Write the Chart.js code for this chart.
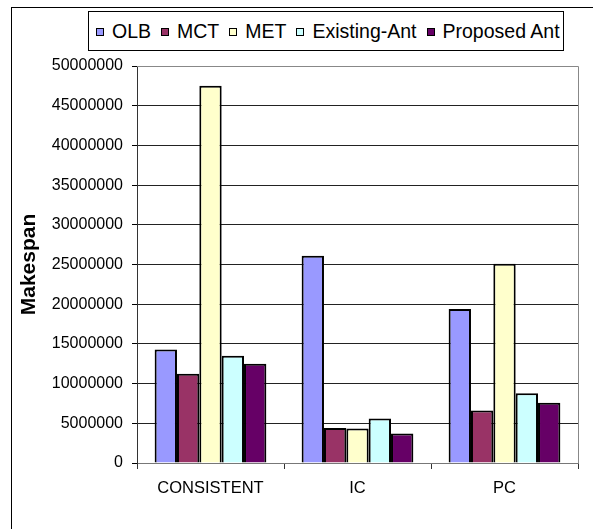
<!DOCTYPE html>
<html>
<head>
<meta charset="utf-8">
<title>Makespan</title>
<script src="https://cdn.jsdelivr.net/npm/chart.js@4.4.1/dist/chart.umd.min.js"></script>
<style>
    html, body { margin: 0; padding: 0; background: #fff; }
    #wrap   { position: relative; width: 593px; height: 529px; overflow: hidden; }
    #frame  { position: absolute; left: 11px; top: 7px; right: -2px; bottom: -2px;
              border-left: 1px solid #000; border-top: 1px solid #000; }
    #grafica { position: absolute; left: 0; top: 0; }
    #leyenda {
        position: absolute; left: 88px; top: 11px; width: 467px; height: 38px;
        border: 1px solid #000; background: #fff;
        display: flex; align-items: center; padding-left: 7px; box-sizing: content-box;
        font-family: 'Liberation Sans', Arial, sans-serif; font-size: 19.5px; color: #000;
        white-space: nowrap;
    }
    #leyenda .item { display: flex; align-items: center; margin-right: 10px; }
    #leyenda .caja { width: 6px; height: 6px; border: 1px solid #000; margin-right: 8px; margin-top: 2px; }
</style>
</head>
<body>
<div id="wrap">
    <div id="frame"></div>
    <canvas id="grafica" width="593" height="529"></canvas>
    <div id="leyenda"></div>
</div>
<script>
const categorias   = ['CONSISTENT', 'IC', 'PC'];
const olb          = [14300000, 26100000, 19400000];
const mct          = [11250000,  4400000,  6600000];
const met          = [47500000,  4350000, 25100000];
const existingAnt  = [13500000,  5600000,  8800000];
const proposedAnt  = [12500000,  3700000,  7600000];
const yTicks       = [0, 5000000, 10000000, 15000000, 20000000, 25000000,
                      30000000, 35000000, 40000000, 45000000, 50000000];

const fuente = "'Liberation Sans', Arial, sans-serif";

const series = [
    { label: 'OLB',          data: olb,         color: '#9999FF' },
    { label: 'MCT',          data: mct,         color: '#993366' },
    { label: 'MET',          data: met,         color: '#FFFFCC' },
    { label: 'Existing-Ant', data: existingAnt, color: '#CCFFFF' },
    { label: 'Proposed Ant', data: proposedAnt, color: '#660066' },
];

// borde gris del area de trazado (derecha y arriba)
const bordeArea = {
    id: 'bordeArea',
    afterDraw(chart) {
        const { ctx, chartArea: a } = chart;
        ctx.save();
        ctx.strokeStyle = '#888';
        ctx.lineWidth = 1;
        ctx.beginPath();
        ctx.moveTo(a.left, a.top + 0.5);
        ctx.lineTo(a.right + 0.5, a.top + 0.5);
        ctx.lineTo(a.right + 0.5, a.bottom);
        ctx.stroke();
        ctx.restore();
    }
};

const chart = new Chart(document.getElementById('grafica'), {
    type: 'bar',
    data: {
        labels: categorias,
        datasets: series.map(s => ({
            label: s.label,
            data: s.data,
            backgroundColor: s.color,
            borderColor: '#000',
            borderWidth: 2,
            categoryPercentage: 0.76,
            barPercentage: 1.0,
        }))
    },
    options: {
        responsive: false,
        animation: false,
        layout: { padding: { left: 5, top: 66, right: 15, bottom: 30 } },
        plugins: {
            legend: { display: false },
            tooltip: { enabled: false }
        },
        scales: {
            x: {
                afterFit: s => { s.height = 36; },
                grid: { offset: true, drawOnChartArea: false, tickLength: 6, color: '#333' },
                border: { color: '#777', width: 1 },
                ticks: { color: '#000', padding: 10, font: { family: fuente, size: 16.5 } }
            },
            y: {
                min: 0,
                max: 50000000,
                afterFit: s => { s.width = 132; },
                afterBuildTicks: s => { s.ticks = yTicks.map(v => ({ value: v })); },
                grid: { color: '#222', tickColor: '#000', tickLength: 5 },
                border: { color: '#333', width: 1 },
                ticks: { color: '#000', padding: 9, font: { family: fuente, size: 16 },
                         callback: v => String(v) },
                title: {
                    display: true,
                    text: 'Makespan',
                    color: '#000',
                    padding: { top: 12, bottom: 0 },
                    font: { family: fuente, size: 21, weight: 'bold' }
                }
            }
        }
    },
    plugins: [bordeArea]
});

// leyenda en HTML a partir de las series
document.getElementById('leyenda').innerHTML = chart.data.datasets.map(d => `
    <span class="item"><span class="caja" style="background:${d.backgroundColor}"></span>${d.label}</span>
`).join('');
</script>
</body>
</html>
